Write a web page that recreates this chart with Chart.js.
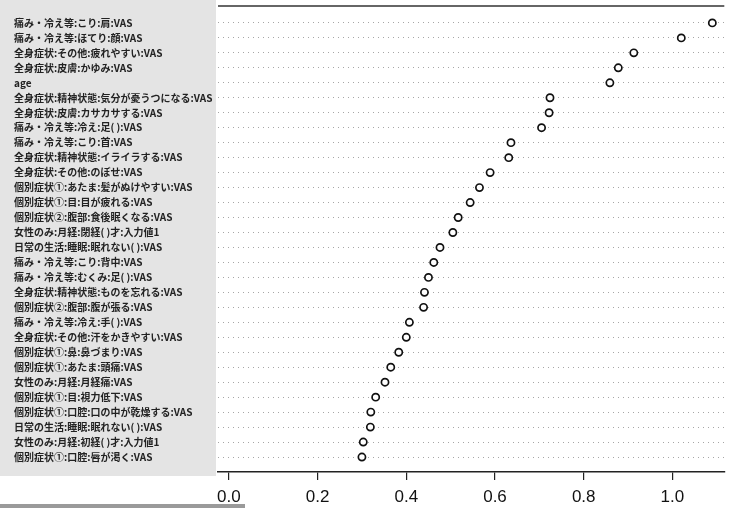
<!DOCTYPE html>
<html>
<head>
<meta charset="utf-8">
<script src="https://cdn.jsdelivr.net/npm/chart.js@4.4.1/dist/chart.umd.min.js"></script>
<style>
html,body{margin:0;padding:0;background:#fff;}
#wrap{width:730px;height:508px;position:relative;}
</style>
</head>
<body>
<div id="wrap"><canvas id="c" width="730" height="508"></canvas></div>
<script>
const categories = [
  "痛み・冷え等:こり:肩:VAS",
  "痛み・冷え等:ほてり:顔:VAS",
  "全身症状:その他:疲れやすい:VAS",
  "全身症状:皮膚:かゆみ:VAS",
  "age",
  "全身症状:精神状態:気分が憂うつになる:VAS",
  "全身症状:皮膚:カサカサする:VAS",
  "痛み・冷え等:冷え:足( ):VAS",
  "痛み・冷え等:こり:首:VAS",
  "全身症状:精神状態:イライラする:VAS",
  "全身症状:その他:のぼせ:VAS",
  "個別症状①:あたま:髪がぬけやすい:VAS",
  "個別症状①:目:目が疲れる:VAS",
  "個別症状②:腹部:食後眠くなる:VAS",
  "女性のみ:月経:閉経( )才:入力値1",
  "日常の生活:睡眠:眠れない( ):VAS",
  "痛み・冷え等:こり:背中:VAS",
  "痛み・冷え等:むくみ:足( ):VAS",
  "全身症状:精神状態:ものを忘れる:VAS",
  "個別症状②:腹部:腹が張る:VAS",
  "痛み・冷え等:冷え:手( ):VAS",
  "全身症状:その他:汗をかきやすい:VAS",
  "個別症状①:鼻:鼻づまり:VAS",
  "個別症状①:あたま:頭痛:VAS",
  "女性のみ:月経:月経痛:VAS",
  "個別症状①:目:視力低下:VAS",
  "個別症状①:口腔:口の中が乾燥する:VAS",
  "日常の生活:睡眠:眠れない( ):VAS",
  "女性のみ:月経:初経( )才:入力値1",
  "個別症状①:口腔:唇が渇く:VAS"
];
const importance = [
  1.090, 1.020, 0.913, 0.878, 0.859,
  0.724, 0.722, 0.705, 0.636, 0.631,
  0.589, 0.565, 0.544, 0.517, 0.505,
  0.476, 0.462, 0.450, 0.441, 0.439,
  0.407, 0.400, 0.383, 0.365, 0.352,
  0.331, 0.320, 0.319, 0.303, 0.300
];
const xTickValues = [0, 0.2, 0.4, 0.6, 0.8, 1.0];

const decor = {
  id: 'decor',
  beforeDraw(chart) {
    const ctx = chart.ctx, a = chart.chartArea;
    ctx.save();
    ctx.fillStyle = '#ffffff';
    ctx.fillRect(0, 0, chart.width, chart.height);
    ctx.fillStyle = '#e4e4e4';
    ctx.fillRect(0, 0, a.left - 2, a.bottom + 4);
    ctx.fillStyle = '#9a9a9a';
    ctx.fillRect(0, chart.height - 4, 245, 4);
    ctx.restore();
  },
  afterDraw(chart) {
    const ctx = chart.ctx, a = chart.chartArea;
    ctx.save();
    ctx.strokeStyle = '#333';
    ctx.lineWidth = 1.5;
    ctx.beginPath();
    ctx.moveTo(a.left, a.top);
    ctx.lineTo(a.right, a.top);
    ctx.stroke();
    ctx.restore();
  }
};

new Chart(document.getElementById('c'), {
  type: 'scatter',
  data: {
    datasets: [{
      data: importance.map((v, i) => ({ x: v, y: i })),
      pointRadius: 3.6,
      pointBorderWidth: 1.7,
      pointBorderColor: '#111',
      pointBackgroundColor: '#fff',
      showLine: false
    }]
  },
  options: {
    responsive: false,
    animation: false,
    layout: { padding: { left: 14, top: 4, right: 0, bottom: 0 } },
    plugins: { legend: { display: false }, tooltip: { enabled: false } },
    scales: {
      x: {
        type: 'linear', position: 'bottom', min: -0.0245, max: 1.117,
        afterBuildTicks: s => { s.ticks = xTickValues.map(v => ({ value: v })); },
        afterFit: s => { s.height = 36; },
        ticks: {
          callback: v => Number(v).toFixed(1),
          font: { family: 'Liberation Sans', size: 17 },
          color: '#111', padding: 7, maxRotation: 0, autoSkip: false
        },
        grid: { drawOnChartArea: false, drawTicks: true, tickLength: 8, color: '#222', lineWidth: 1.2 },
        border: { display: true, color: '#222', width: 1.6 }
      },
      y: {
        type: 'linear', position: 'left', reverse: true, min: -1.13, max: 30.0,
        afterBuildTicks: s => { s.ticks = categories.map((_, i) => ({ value: i })); },
        afterFit: s => { s.width = 204; },
        ticks: {
          callback: (v, i) => categories[i],
          crossAlign: 'far',
          font: { family: '"Noto Sans CJK JP"', size: 10, weight: 'bold' },
          color: '#222', padding: 0, autoSkip: false
        },
        grid: { drawTicks: false, color: '#a6a6a6', lineWidth: 1 },
        border: { display: false, dash: [1, 4] }
      }
    }
  },
  plugins: [decor]
});
</script>
</body>
</html>
